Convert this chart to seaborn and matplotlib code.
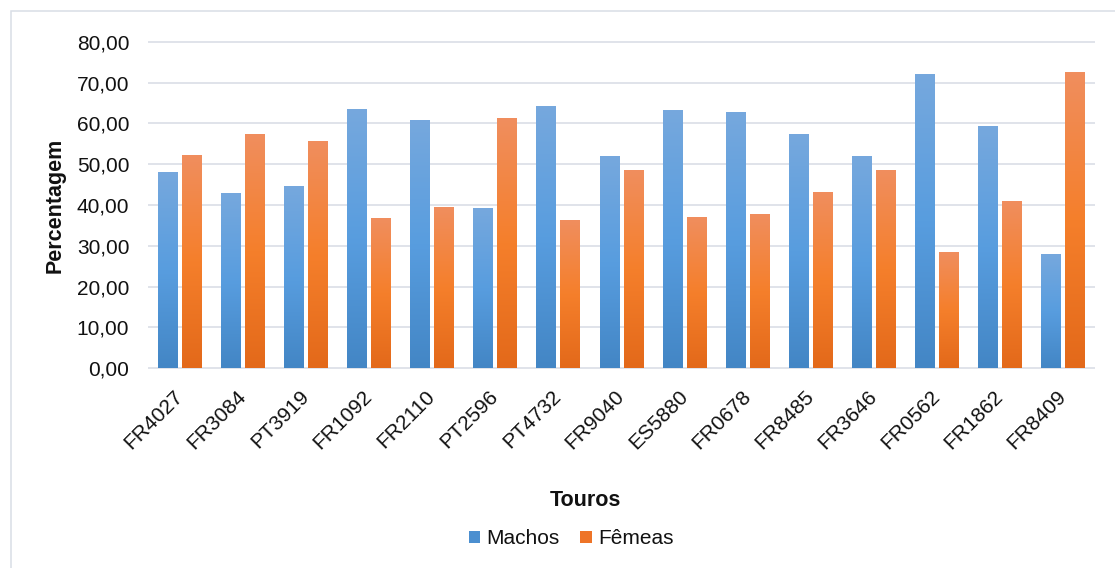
import numpy as np
import pandas as pd
import matplotlib
matplotlib.use("Agg")
import matplotlib.pyplot as plt
from matplotlib.colors import LinearSegmentedColormap
from matplotlib.patches import Rectangle, Patch
from matplotlib.ticker import FuncFormatter, MultipleLocator
import seaborn as sns

# Sex ratio of offspring per bull (%)
touros = ["FR4027", "FR3084", "PT3919", "FR1092", "FR2110", "PT2596", "PT4732",
          "FR9040", "ES5880", "FR0678", "FR8485", "FR3646", "FR0562", "FR1862", "FR8409"]
machos = [48.0, 42.8, 44.4, 63.4, 60.7, 39.0, 64.1, 51.9, 63.1, 62.6, 57.3, 51.9, 71.9, 59.2, 27.8]
femeas = [52.0, 57.3, 55.6, 36.6, 39.3, 61.2, 36.1, 48.3, 36.8, 37.6, 42.9, 48.3, 28.3, 40.7, 72.4]
series = ["Machos", "Fêmeas"]

df = pd.DataFrame({
    "Touro": touros * 2,
    "Sexo": [series[0]] * len(touros) + [series[1]] * len(touros),
    "Percentagem": machos + femeas,
})

BLUE, ORANGE = "#5b9bd5", "#f07d2d"
blue_grad = LinearSegmentedColormap.from_list("b", ["#76a8dd", "#589ddf", "#4386c5"])
orange_grad = LinearSegmentedColormap.from_list("o", ["#f08e5e", "#f57f2b", "#e3691a"])

sns.set_theme(style="white")
plt.rcParams["font.family"] = ["Liberation Sans", "DejaVu Sans"]
FS = 15
TXT = "#111111"

W, H = 1115, 568
fig = plt.figure(figsize=(W / 100, H / 100), dpi=100)
fig.patch.set_facecolor("white")

ax_left, ax_right = 148 / W, 1095 / W
ax_bottom, ax_top = 1 - 369.5 / H, 1 - 40.5 / H
ax = fig.add_axes([ax_left, ax_bottom, ax_right - ax_left, ax_top - ax_bottom])

sns.barplot(data=df, x="Touro", y="Percentagem", hue="Sexo", order=touros,
            hue_order=series, palette=[BLUE, ORANGE], saturation=1,
            width=0.76, gap=0.17, legend=False, ax=ax)

# vertical gradient fill for each bar
for container, cmap in zip(ax.containers, [blue_grad, orange_grad]):
    for bar in container:
        x0, w, h = bar.get_x(), bar.get_width(), bar.get_height()
        grad = cmap(np.linspace(0, 1, 256))[:, :3].reshape(256, 1, 3)
        ax.imshow(grad, extent=[x0, x0 + w, 0, h], origin="upper",
                  aspect="auto", interpolation="bilinear", zorder=2)
        bar.set_facecolor("none")
        bar.set_edgecolor("none")

ax.set_xlim(-0.5, len(touros) - 0.5)
ax.set_ylim(-0.3, 80.3)
ax.yaxis.set_major_locator(MultipleLocator(10))
ax.yaxis.set_major_formatter(FuncFormatter(lambda v, p: f"{v:.2f}".replace(".", ",")))
ax.yaxis.grid(True, color="#dde1e8", linewidth=1.3)
ax.set_axisbelow(True)
for s in ax.spines.values():
    s.set_visible(False)

ax.tick_params(axis="y", length=0, pad=13.5, labelsize=FS, labelcolor=TXT)
ax.tick_params(axis="x", length=0, pad=17, labelsize=FS, labelcolor=TXT)
for lab in ax.get_xticklabels():
    lab.set_rotation(45)
    lab.set_ha("right")
    lab.set_va("center")
    lab.set_rotation_mode("anchor")

ax.set_xlabel("Touros", fontsize=FS + 0.5, fontweight="bold", color=TXT)
ax.xaxis.label.set_va("center")
ax.xaxis.set_label_coords((585 - 148) / 947, -(501 - 369.5) / 329)
ax.set_ylabel("Percentagem", fontsize=FS + 0.5, fontweight="bold", color=TXT)
ax.yaxis.label.set_va("center")
ax.yaxis.set_label_coords((55.5 - 148) / 947, 0.5)

handles = [Patch(facecolor="#4b8fd0", edgecolor="none"),
           Patch(facecolor="#ee7428", edgecolor="none")]
fig.legend(handles, series, loc="center", bbox_to_anchor=(571 / W, 1 - 539 / H),
           ncol=2, frameon=False, fontsize=FS, handlelength=0.55, handleheight=0.55,
           handletextpad=0.3, columnspacing=1.0, labelcolor=TXT)

# chart frame
fig.patches.append(Rectangle((10.5 / W, -0.1), 1.2, 1.1 - 11.3 / H, transform=fig.transFigure,
                             fill=False, edgecolor="#d9dee6", linewidth=1.1))

fig.savefig("out.png", dpi=100, facecolor="white")
